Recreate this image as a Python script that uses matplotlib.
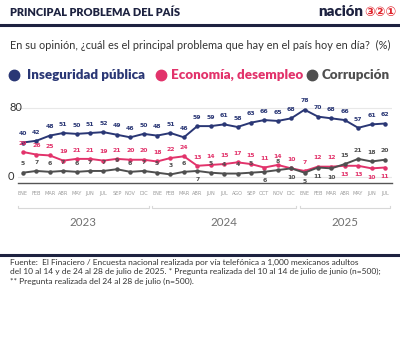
import numpy as np
import matplotlib.pyplot as plt
from matplotlib.transforms import blended_transform_factory

# datos de la encuesta mensual
meses = ['ENE', 'FEB', 'MAR', 'ABR', 'MAY', 'JUN', 'JUL', 'SEP', 'NOV', 'DIC',
         'ENE', 'FEB', 'MAR', 'ABR', 'JUN', 'JUL', 'AGO', 'SEP', 'OCT', 'NOV', 'DIC',
         'ENE', 'FEB', 'MAR', 'ABR', 'MAY', 'JUN', 'JUL']
anios = ['2023', '2024', '2025']
meses_por_anio = [10, 11, 7]

inseguridad = [40, 42, 48, 51, 50, 51, 52, 49, 46, 50,
               48, 51, 46, 59, 59, 61, 58, 63, 66, 65, 68,
               78, 70, 68, 66, 57, 61, 62]
economia = [29, 26, 25, 19, 21, 21, 19, 21, 20, 20,
            18, 22, 24, 13, 14, 15, 17, 15, 11, 14, 10,
            7, 12, 12, 13, 13, 10, 11]
corrupcion = [5, 7, 6, 7, 6, 7, 7, 9, 6, 7,
              5, 3, 6, 7, 5, 4, 4, 5, 6, 8, 10,
              5, 11, 10, 15, 21, 18, 20]

# puntos cuya etiqueta va debajo de la linea
econ_abajo = [24, 25, 26, 27]
corr_abajo = [13, 18, 20, 21, 22, 23]

AZUL = '#2a3775'
ROSA = '#e2336b'
GRIS = '#4f4f4f'
NAVY = '#1d2240'

W, H = 400, 338
fig = plt.figure(figsize=(W / 100, H / 100), dpi=100)
fig.patch.set_facecolor('white')


def fx(px):
    return px / W


def fy(py):
    return 1 - py / H


# encabezado
fig.text(fx(10), fy(13), 'PRINCIPAL PROBLEMA DEL PAÍS', fontsize=7.9, fontweight='heavy',
         family='Lato', color=NAVY, va='center')
fig.text(fx(363), fy(12), 'nación', fontsize=10.8, fontweight='heavy', family='Lato',
         color=NAVY, va='center', ha='right')
fig.text(fx(364), fy(12.5), '③②①', fontsize=9.2, fontweight='bold', family='DejaVu Sans',
         color='#e0242c', va='center', ha='left')
fig.add_artist(plt.Line2D([0, 1], [fy(24.5), fy(24.5)], color=NAVY, lw=2.2))
fig.text(fx(10), fy(45), 'En su opinión, ¿cuál es el principal problema que hay en el país hoy en día?  (%)',
         fontsize=7.9, family='Lato', color='#333333', va='center')

# leyenda
leyenda = [(14, 27, 'Inseguridad pública', AZUL),
           (161, 171, 'Economía, desempleo', ROSA),
           (312, 322, 'Corrupción', GRIS)]
for cx, tx, txt, col in leyenda:
    fig.add_artist(plt.Line2D([fx(cx)], [fy(75)], marker='o', ms=7.5, color=col, lw=0))
    fig.text(fx(tx), fy(75), txt, fontsize=9.6, fontweight='heavy', family='Lato',
             color=col, va='center')

# area del grafico
x0, x_ult = 23, 385
paso = (x_ult - x0) / (len(meses) - 1)
ax_izq, ax_der, ax_sup, ax_inf = 18, 392, 100, 183
ax = fig.add_axes([fx(ax_izq), fy(ax_inf), (ax_der - ax_izq) / W, (ax_inf - ax_sup) / H])
ppu = (177 - 108) / 80
ax.set_xlim((ax_izq - x0) / paso, (ax_der - x0) / paso)
ax.set_ylim(-(ax_inf - 177) / ppu, 80 + (108 - ax_sup) / ppu)
for s in ax.spines.values():
    s.set_visible(False)
ax.spines['bottom'].set_visible(True)
ax.spines['bottom'].set_color('#555555')
ax.spines['bottom'].set_linewidth(1.0)
ax.set_yticks([])
ax.axhline(0, color='#e8e8e8', lw=0.8, zorder=0)
ax.axhline(80, color='#e8e8e8', lw=0.8, zorder=0)
trans_y = blended_transform_factory(fig.transFigure, ax.transData)
fig.text(fx(10), 80, '80', transform=trans_y, fontsize=8, family='Lato', color='#333333',
         va='center', ha='left')
fig.text(fx(8), 0, '0', transform=trans_y, fontsize=8, family='Lato', color='#333333',
         va='center', ha='left')

x = np.arange(len(meses))
ax.set_xticks(x)
ax.set_xticklabels(meses, fontsize=3.6, color='#9a9a9a')
ax.tick_params(axis='x', length=0, pad=6)

series = [(inseguridad, AZUL, []), (economia, ROSA, econ_abajo), (corrupcion, GRIS, corr_abajo)]
for vals, col, abajo in series:
    ax.plot(x, vals, color=col, lw=1.4, marker='o', ms=2.2, zorder=3)
    for i, v in enumerate(vals):
        dy = -4.5 if i in abajo else 4.5
        ax.annotate(str(v), (i, v), xytext=(0, dy), textcoords='offset points',
                    ha='center', va='top' if i in abajo else 'bottom',
                    fontsize=4.4, fontweight='bold', color=col, family='DejaVu Sans')

# corchetes y años
trans_b = blended_transform_factory(ax.transData, fig.transFigure)
inicio = 0
for anio, n in zip(anios, meses_por_anio):
    a, b = inicio - 0.37, inicio + n - 1 + 0.37
    ax.plot([a, a, b, b], [fy(206), fy(208), fy(208), fy(206)], transform=trans_b,
            color='#d8d8d8', lw=0.8, clip_on=False)
    ax.text((a + b) / 2, fy(223), anio, transform=trans_b, ha='center', va='center',
            fontsize=8.3, family='Lato', color='#707070')
    inicio += n

# pie
fig.add_artist(plt.Line2D([0, 1], [fy(254.5), fy(254.5)], color=NAVY, lw=2.2))
nota = ('Fuente:  El Finaciero / Encuesta nacional realizada por vía telefónica a 1,000 mexicanos adultos\n'
        'del 10 al 14 y de 24 al 28 de julio de 2025. * Pregunta realizada del 10 al 14 de julio de junio (n=500);\n'
        '** Pregunta realizada del 24 al 28 de julio (n=500).')
fig.text(fx(10), fy(258.5), nota, fontsize=6.0, family='Lato', color='#333333', va='top',
         linespacing=1.4)

fig.savefig('out.png', dpi=100)
